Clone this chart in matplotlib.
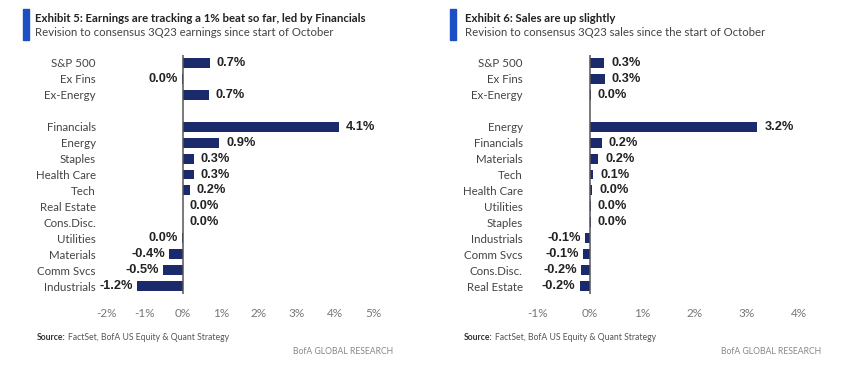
import matplotlib
matplotlib.use("Agg")
import matplotlib.pyplot as plt

# exhibit 5: earnings revisions (%)
left_cats = ["S&P 500", "Ex Fins", "Ex-Energy",
             "Financials", "Energy", "Staples", "Health Care", "Tech",
             "Real Estate", "Cons.Disc.", "Utilities", "Materials",
             "Comm Svcs", "Industrials"]
left_vals = [0.71, -0.02, 0.68,
             4.1, 0.95, 0.29, 0.29, 0.18,
             0.0, 0.0, -0.02, -0.37,
             -0.53, -1.2]
left_ticks = [-2, -1, 0, 1, 2, 3, 4, 5]

# exhibit 6: sales revisions (%)
right_cats = ["S&P 500", "Ex Fins", "Ex-Energy",
              "Energy", "Financials", "Materials", "Tech", "Health Care",
              "Utilities", "Staples", "Industrials", "Comm Svcs",
              "Cons.Disc.", "Real Estate"]
right_vals = [0.27, 0.28, 0.01,
              3.2, 0.22, 0.16, 0.06, 0.04,
              0.02, 0.01, -0.09, -0.14,
              -0.17, -0.2]
right_ticks = [-1, 0, 1, 2, 3, 4]

NAVY = "#1b2a6b"
BLUE = "#1d4fc4"
NARROW = ["Lato", "DejaVu Sans"]
W, H = 848, 366


def fmt(v):
    s = f"{v:.1f}%"
    return "0.0%" if s == "-0.0%" else s


def px(x, y):
    return x / W, 1 - y / H


def draw_panel(ax, cats, vals, ticks, xlim):
    # one blank row between the index group and the sectors
    ypos = [0, 1, 2] + list(range(4, 4 + len(cats) - 3))
    ax.barh(ypos, vals, height=0.62, color=NAVY)
    ax.axvline(0, color="#555555", lw=1.1)
    ax.set_xlim(*xlim)
    ax.set_ylim(len(cats) + 0.5, -0.5)
    ax.set_yticks(ypos)
    ax.set_yticklabels(cats, fontsize=8.3, color="#444444", family=NARROW)
    ax.set_xticks(ticks)
    ax.set_xticklabels([f"{t}%" for t in ticks], fontsize=8.5,
                       color="#777777", family=NARROW)
    ax.tick_params(length=0)
    ax.tick_params(axis="y", pad=2.5)
    ax.tick_params(axis="x", pad=10)
    for s in ax.spines.values():
        s.set_visible(False)
    for y, v in zip(ypos, vals):
        if v < 0:
            ax.annotate(fmt(v), (v, y), xytext=(-3, 0), textcoords="offset points",
                        ha="right", va="center", fontsize=9.2, fontweight="bold",
                        color="#222222", family="Liberation Sans")
        else:
            ax.annotate(fmt(v), (v, y), xytext=(5, 0), textcoords="offset points",
                        ha="left", va="center", fontsize=9.2, fontweight="bold",
                        color="#222222", family="Liberation Sans")


fig = plt.figure(figsize=(W / 100, H / 100), dpi=100)
fig.patch.set_facecolor("white")

top, bottom = 55, 294
# left: zero at x=183, 38 px per 1%
lx0, lxmin, lxmax, lscale = 183, -2.2, 5.2, 38
ax1 = fig.add_axes([(lx0 + lxmin * lscale) / W, (H - bottom) / H,
                    (lxmax - lxmin) * lscale / W, (bottom - top) / H])
draw_panel(ax1, left_cats, left_vals, left_ticks, (lxmin, lxmax))

# right: zero at x=590, 52.3 px per 1%
rx0, rxmin, rxmax, rscale = 590, -1.22, 4.3, 52.3
ax2 = fig.add_axes([(rx0 + rxmin * rscale) / W, (H - bottom) / H,
                    (rxmax - rxmin) * rscale / W, (bottom - top) / H])
draw_panel(ax2, right_cats, right_vals, right_ticks, (rxmin, rxmax))

# headers
for bx, tx, title, sub in [
        (23, 35, "Exhibit 5: Earnings are tracking a 1% beat so far, led by Financials",
         "Revision to consensus 3Q23 earnings since start of October"),
        (450, 465, "Exhibit 6: Sales are up slightly",
         "Revision to consensus 3Q23 sales since the start of October")]:
    fig.patches.append(plt.Rectangle(px(bx, 40), 6 / W, 31 / H, color=BLUE,
                                     transform=fig.transFigure))
    fig.text(*px(tx, 19), title, fontsize=8.2, fontweight="bold", color="#222222",
             va="center", family=NARROW)
    fig.text(*px(tx, 33), sub, fontsize=8.2, color="#444444", va="center", family=NARROW)

# footers
for sx, rx, brand_x in [(37, 68, 393), (464, 495, 821)]:
    fig.text(*px(sx, 338), "Source:", fontsize=6.2, fontweight="bold", color="#333333",
             va="center", family=NARROW)
    fig.text(*px(rx, 338), "FactSet, BofA US Equity & Quant Strategy", fontsize=6.2,
             color="#555555", va="center", family=NARROW)
    fig.text(*px(brand_x, 352), "BofA GLOBAL RESEARCH", fontsize=6.2, color="#888888",
             va="center", ha="right", family=NARROW)

plt.savefig("out.png", dpi=100)
plt.close()
